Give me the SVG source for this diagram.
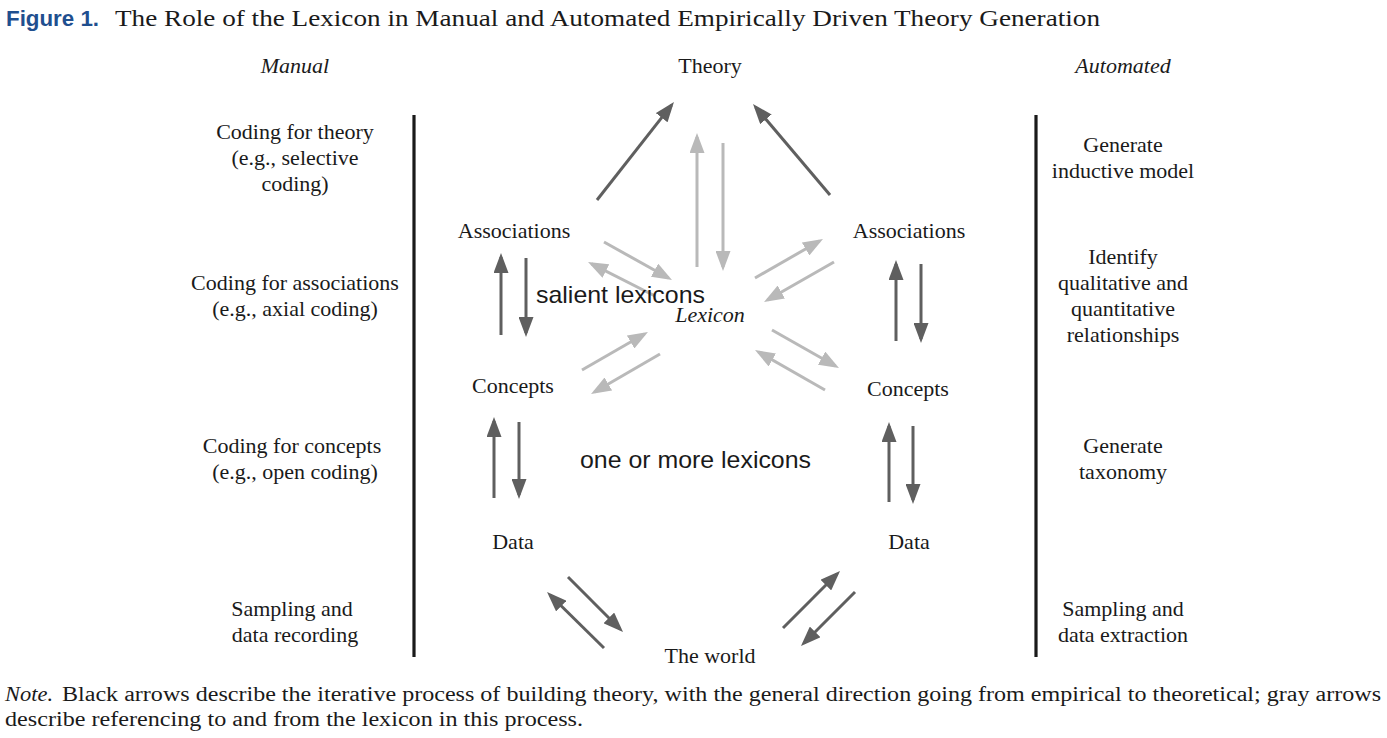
<svg xmlns="http://www.w3.org/2000/svg" width="1387" height="738" viewBox="0 0 1387 738">
<style>
.s{font-family:"Liberation Serif","Times New Roman",serif;font-size:22px;fill:#1a1a1a}
.c{text-anchor:middle}
.i{font-style:italic}
.a{font-family:"Liberation Sans",Arial,sans-serif;font-size:24px;fill:#1a1a1a}
.dk{stroke:#5f5f5f;stroke-width:3;fill:none}
.gr{stroke:#b9b9b9;stroke-width:3;fill:none}
.bar{stroke:#1a1a1a;stroke-width:3.2}
</style>
<defs>
<marker id="hd" markerUnits="userSpaceOnUse" markerWidth="20" markerHeight="15" refX="16" refY="7.5" orient="auto" viewBox="0 0 20 15">
<path d="M0,0 L20,7.5 L0,15 z" fill="#5f5f5f"/>
</marker>
<marker id="hg" markerUnits="userSpaceOnUse" markerWidth="20" markerHeight="15" refX="16" refY="7.5" orient="auto" viewBox="0 0 20 15">
<path d="M0,0 L20,7.5 L0,15 z" fill="#b9b9b9"/>
</marker>
</defs>
<g id="title">
<text x="6" y="26" font-family="Liberation Sans,Arial,sans-serif" font-weight="bold" font-size="22" fill="#1f4f8f" textLength="93" lengthAdjust="spacingAndGlyphs">Figure 1.</text>
<text x="115" y="26" class="s" style="font-size:24px" textLength="985" lengthAdjust="spacingAndGlyphs">The Role of the Lexicon in Manual and Automated Empirically Driven Theory Generation</text>
</g>
<g id="headers">
<text x="295" y="73" class="s c i">Manual</text>
<text x="1123" y="73" class="s c i">Automated</text>
</g>
<g id="bars">
<line x1="414" y1="115" x2="414" y2="657" class="bar"/>
<line x1="1036" y1="115" x2="1036" y2="657" class="bar"/>
</g>
<g id="manual-steps">
<text class="s c"><tspan x="295" y="139">Coding for theory</tspan><tspan x="295" y="165">(e.g., selective</tspan><tspan x="295" y="191">coding)</tspan></text>
<text class="s c"><tspan x="295" y="290">Coding for associations</tspan><tspan x="295" y="316">(e.g., axial coding)</tspan></text>
<text class="s c"><tspan x="292" y="453">Coding for concepts</tspan><tspan x="295" y="479">(e.g., open coding)</tspan></text>
<text class="s c"><tspan x="292" y="616">Sampling and</tspan><tspan x="295" y="642">data recording</tspan></text>
</g>
<g id="automated-steps">
<text class="s c"><tspan x="1123" y="152">Generate</tspan><tspan x="1123" y="178">inductive model</tspan></text>
<text class="s c"><tspan x="1123" y="264">Identify</tspan><tspan x="1123" y="290">qualitative and</tspan><tspan x="1123" y="316">quantitative</tspan><tspan x="1123" y="342">relationships</tspan></text>
<text class="s c"><tspan x="1123" y="453">Generate</tspan><tspan x="1123" y="479">taxonomy</tspan></text>
<text class="s c"><tspan x="1123" y="616">Sampling and</tspan><tspan x="1123" y="642">data extraction</tspan></text>
</g>
<g id="connectors">
<line x1="597" y1="200" x2="671.5" y2="105.1" class="dk" marker-end="url(#hd)"/>
<line x1="830" y1="195" x2="755.6" y2="107.1" class="dk" marker-end="url(#hd)"/>
<line x1="501" y1="335" x2="501" y2="257" class="dk" marker-end="url(#hd)"/>
<line x1="526" y1="258" x2="526" y2="333" class="dk" marker-end="url(#hd)"/>
<line x1="896" y1="341" x2="896" y2="264" class="dk" marker-end="url(#hd)"/>
<line x1="921" y1="264" x2="921" y2="339" class="dk" marker-end="url(#hd)"/>
<line x1="494" y1="498" x2="494" y2="421" class="dk" marker-end="url(#hd)"/>
<line x1="519" y1="422" x2="519" y2="495" class="dk" marker-end="url(#hd)"/>
<line x1="889" y1="502" x2="889" y2="426" class="dk" marker-end="url(#hd)"/>
<line x1="913" y1="426" x2="913" y2="500" class="dk" marker-end="url(#hd)"/>
<line x1="568" y1="577" x2="620.2" y2="629.2" class="dk" marker-end="url(#hd)"/>
<line x1="604" y1="648" x2="549.9" y2="594.8" class="dk" marker-end="url(#hd)"/>
<line x1="783" y1="628" x2="837.2" y2="573.8" class="dk" marker-end="url(#hd)"/>
<line x1="855" y1="592" x2="803.8" y2="643.2" class="dk" marker-end="url(#hd)"/>
<line x1="697" y1="267" x2="697" y2="137" class="gr" marker-end="url(#hg)"/>
<line x1="723" y1="143" x2="723" y2="267" class="gr" marker-end="url(#hg)"/>
<line x1="604" y1="242" x2="668.5" y2="278" class="gr" marker-end="url(#hg)"/>
<line x1="655" y1="296" x2="591.6" y2="263.8" class="gr" marker-end="url(#hg)"/>
<line x1="755" y1="278" x2="819.5" y2="241" class="gr" marker-end="url(#hg)"/>
<line x1="834" y1="262" x2="767.5" y2="300" class="gr" marker-end="url(#hg)"/>
<line x1="582" y1="370" x2="644.5" y2="334" class="gr" marker-end="url(#hg)"/>
<line x1="660" y1="354" x2="594.5" y2="392" class="gr" marker-end="url(#hg)"/>
<line x1="772" y1="330" x2="835.5" y2="366" class="gr" marker-end="url(#hg)"/>
<line x1="825" y1="390" x2="758.5" y2="352" class="gr" marker-end="url(#hg)"/>
</g>
<g id="theory"><text x="710" y="73" class="s c">Theory</text></g>
<g id="assoc-left"><text x="514" y="238" class="s c">Associations</text></g>
<g id="assoc-right"><text x="909" y="238" class="s c">Associations</text></g>
<g id="lexicon"><text x="710" y="322" class="s c i">Lexicon</text></g>
<g id="concepts-left"><text x="513" y="393" class="s c">Concepts</text></g>
<g id="concepts-right"><text x="908" y="396" class="s c">Concepts</text></g>
<g id="data-left"><text x="513" y="549" class="s c">Data</text></g>
<g id="data-right"><text x="909" y="549" class="s c">Data</text></g>
<g id="world"><text x="710" y="663" class="s c">The world</text></g>
<g id="labels">
<text x="536" y="303" class="a" textLength="169" lengthAdjust="spacingAndGlyphs">salient lexicons</text>
<text x="580" y="468" class="a" textLength="231" lengthAdjust="spacingAndGlyphs">one or more lexicons</text>
</g>
<g id="note">
<text x="5" y="701" class="s i" style="font-size:20px" textLength="48" lengthAdjust="spacingAndGlyphs">Note.</text>
<text x="62" y="701" class="s" style="font-size:20px" textLength="1319" lengthAdjust="spacingAndGlyphs">Black arrows describe the iterative process of building theory, with the general direction going from empirical to theoretical; gray arrows</text>
<text x="5" y="726" class="s" style="font-size:20px" textLength="578" lengthAdjust="spacingAndGlyphs">describe referencing to and from the lexicon in this process.</text>
</g>
</svg>
